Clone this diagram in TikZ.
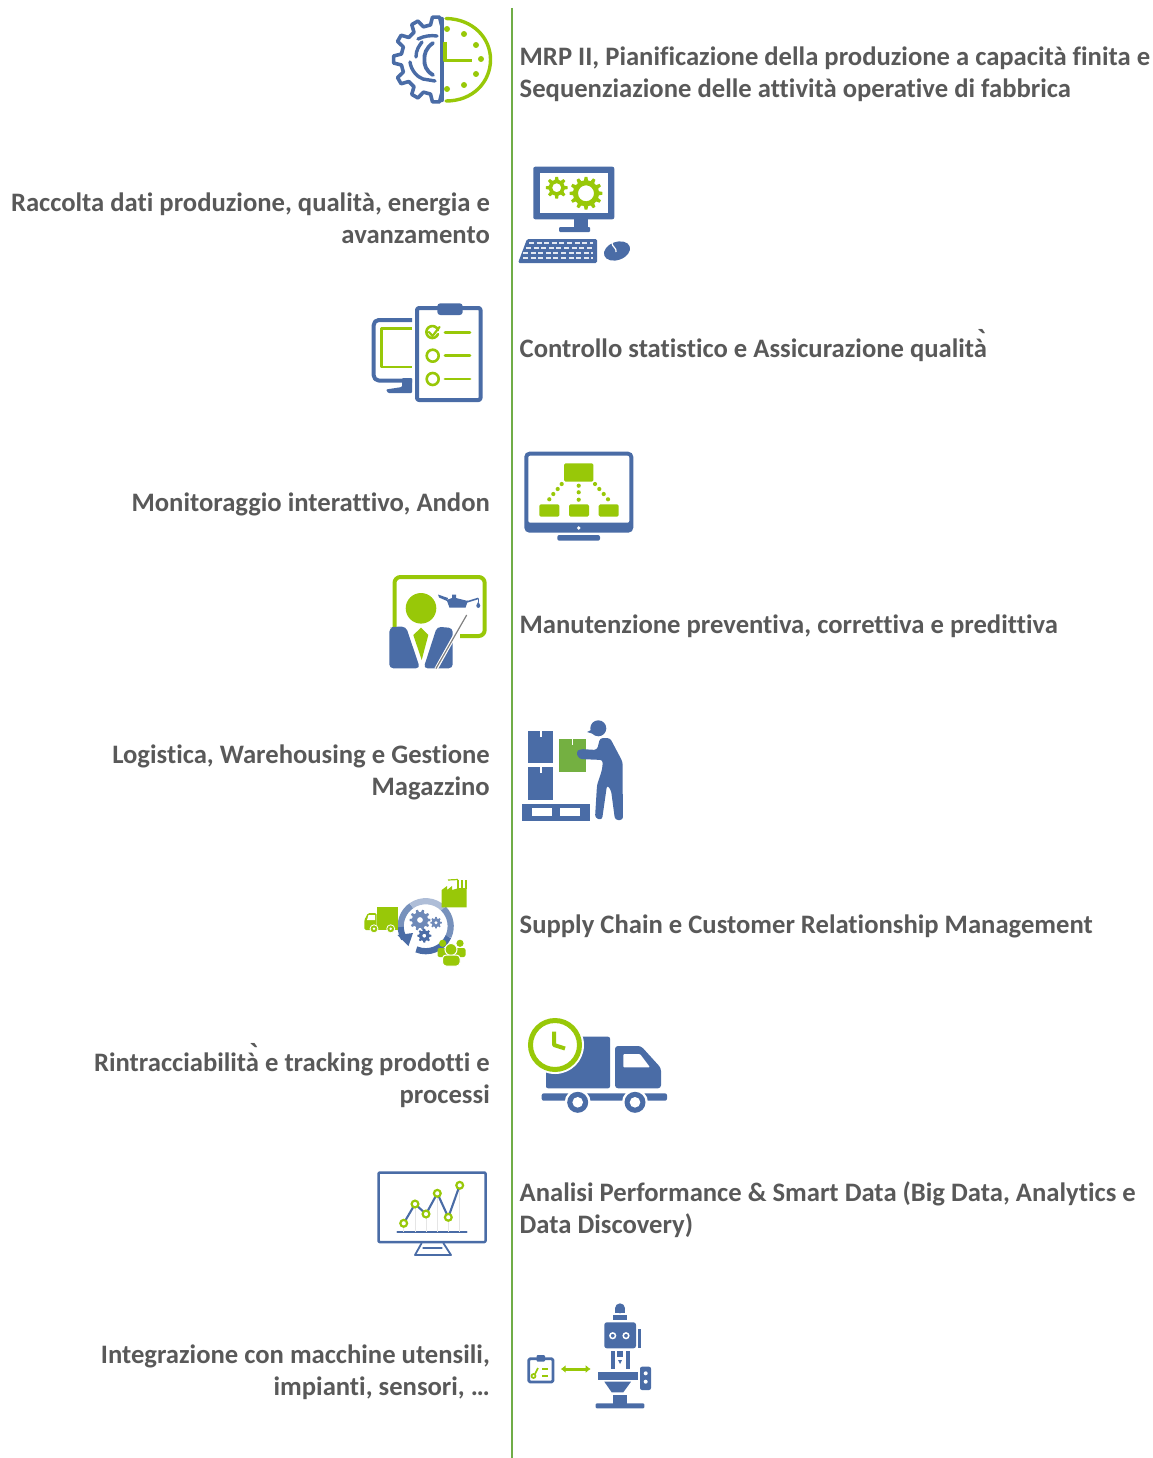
\documentclass[tikz,border=0pt]{standalone}
\usepackage{fontspec}
\setmainfont[Ligatures=NoCommon]{Carlito}
\newfontfamily\accfont{Liberation Sans}
\usetikzlibrary{arrows.meta}
\definecolor{ibl}{HTML}{4A6CA6}
\definecolor{igr}{HTML}{98C808}
\definecolor{lgr}{HTML}{70AD47}
\definecolor{txt}{HTML}{595959}
\newcommand\dblacc{{\accfont\bfseries\fontsize{31}{31}\selectfont ̀}}
\tikzset{
  rtext/.style={anchor=base east,align=right,text=txt,font=\fontsize{26.65}{32}\selectfont\bfseries,inner sep=0pt},
  ltext/.style={anchor=base west,align=left,text=txt,font=\fontsize{26.65}{32}\selectfont\bfseries,inner sep=0pt},
  bl/.style={draw=ibl,line width=#1,line cap=round,line join=round},
  bl/.default=3.5pt,
  gl/.style={draw=igr,line width=#1,line cap=round,line join=round},
  gl/.default=3pt
}
% cx,cy,Ro,Ri,n
\newcommand\gearpath[5]{%
  ({#1+#4*cos(-0.30*360/#5)},{#2+#4*sin(-0.30*360/#5)})
  \foreach \k in {1,...,#5}{
    -- ({#1+#3*cos((\k-1)*360/#5-0.16*360/#5)},{#2+#3*sin((\k-1)*360/#5-0.16*360/#5)})
    -- ({#1+#3*cos((\k-1)*360/#5+0.16*360/#5)},{#2+#3*sin((\k-1)*360/#5+0.16*360/#5)})
    -- ({#1+#4*cos((\k-1)*360/#5+0.30*360/#5)},{#2+#4*sin((\k-1)*360/#5+0.30*360/#5)})
    -- ({#1+#4*cos(\k*360/#5-0.30*360/#5)},{#2+#4*sin(\k*360/#5-0.30*360/#5)})
  } -- cycle}
% ring segment: angle a to b, colour c
\newcommand\ringseg[3]{\draw[#3,line width=6.2pt] ({425.7+25*cos(#1)},{926.2+25*sin(#1)}) arc[start angle=#1,end angle=#2,radius=25];}
\begin{document}
\begin{tikzpicture}[x=1pt,y=-1pt]
\useasboundingbox (0,0) rectangle (1153,1458);
\coordinate (lt) at (511.5,8);
\coordinate (lb) at (511.5,1458);
\draw[lgr,line width=2pt] (lt) -- (lb);

% texts (a node of two lines stands on the baseline of its last line)
\node[ltext] (t1) at (519.5,97.5) {MRP II, Pianificazione della produzione a capacità finita e\\Sequenziazione delle attività operative di fabbrica};
\node[rtext] (t2) at (490,243.5) {Raccolta dati produzione, qualità, energia e\\avanzamento};
\node[ltext] (t3) at (519.5,357.5) {Controllo statistico e Assicurazione qualità\dblacc};
\node[rtext] (t4) at (490,511.5) {Monitoraggio interattivo, Andon};
\node[ltext] (t5) at (519.5,633.5) {Manutenzione preventiva, correttiva e predittiva};
\node[rtext] (t6) at (490,795.5) {Logistica, Warehousing e Gestione\\Magazzino};
\node[ltext] (t7) at (519.5,933.5) {Supply Chain e Customer Relationship Management};
\node[rtext] (t8) at (490,1103.5) {Rintracciabilità\dblacc{} e tracking prodotti e\\processi};
\node[ltext] (t9) at (519.5,1233.5) {Analisi Performance \& Smart Data (Big Data, Analytics e\\Data Discovery)};
\node[rtext] (t10) at (490,1395.5) {Integrazione con macchine utensili,\\impianti, sensori, …};

% icon 1: gear + clock
\begin{scope}
  \clip (380,5) rectangle (442,115);
  \draw[bl=3.6pt] \gearpath{436}{59.5}{42.5}{35}{12};
\end{scope}
\draw[ibl,line width=4.4pt,line cap=round] (442,19) -- (442,100);
\draw[bl=3.8pt] (433,43) .. controls (426,48) and (424,54) .. (424.5,59.5) .. controls (424,65) and (426,71) .. (433,75);
\draw[bl=3.4pt] (418,39) .. controls (424,36) and (431,35) .. (437,36);
\draw[bl=3.4pt] (416,57) .. controls (416,50) and (419,46) .. (422,42);
\draw[bl=3.4pt] (410,62) .. controls (411,70) and (417,77) .. (423,79) -- (435,81);
\draw[gl=3.4pt] (446,18.5) .. controls (473,19) and (490.5,38) .. (490.5,59.5) .. controls (490.5,82) and (473,101) .. (446,101);
\draw[gl=3.2pt,line cap=butt] (445,42) -- (445,60.5) -- (472,60.5);
\foreach \p in {(447,29),(464,34),(476,45),(481,59),(476,74),(464,85),(447,89)}
  \fill[igr] \p circle (3);

% icon 2: computer + gears
\fill[ibl,rounded corners=2pt] (533.3,166.7) rectangle (614.3,219.3);
\fill[white] (540,172.7) rectangle (608,213);
\fill[ibl] (574,219) rectangle (588,227);
\fill[ibl,rounded corners=1pt] (559,227) rectangle (590,232);
\fill[igr,even odd rule] \gearpath{556.7}{187.7}{11}{8}{8} (556.7,187.7) circle (4.5);
\fill[igr,even odd rule] \gearpath{586}{193.3}{16.5}{13}{12} (586,193.3) circle (8);
\fill[ibl,rounded corners=1.5pt] (527,239) -- (597,239) -- (597,263) -- (518,263) -- cycle;
\foreach \yy/\xa/\xb in {243/529/593,248/526/593,253/523/593,258/523/593}{
  \draw[white!85!ibl,line width=2.4pt,dash pattern=on 5pt off 2.6pt] (\xa,\yy) -- (\xb,\yy);
}
\fill[ibl,rotate around={20:(617,251)}] (617,251) ellipse (13.5 and 9);
\draw[white,line width=1.2pt] (612,243) .. controls (612,247) and (617,248) .. (616,252) ;

% icon 3: monitor + checklist
\draw[bl=4pt,line cap=butt,rounded corners=5pt] (412,320) -- (373.7,320) -- (373.7,380.5) -- (412,380.5);
\draw[gl=2.6pt,line cap=butt] (412,328.5) -- (381.5,328.5) -- (381.5,367) -- (412,367);
\fill[ibl,rounded corners=1pt] (402,378) -- (412,378) -- (412,393) -- (388,393) -- (386,389.5) -- (402,387) -- cycle;
\draw[bl=4pt,rounded corners=2pt,fill=white] (417,308) rectangle (480.5,400);
\fill[ibl,rounded corners=3pt] (437.3,303.3) rectangle (462.7,315);
\draw[gl=2.6pt] (438,330) arc[start angle=-20,end angle=-340,radius=6];
\draw[gl=2.2pt] (429,332) -- (432.5,336) -- (439.5,327);
\draw[gl=2.6pt] (432.7,355.7) circle (6);
\draw[gl=2.6pt] (432.7,379) circle (6);
\foreach \yy in {332.7,355.7,379} \draw[gl=2.8pt] (445,\yy) -- (470,\yy);

% icon 4: monitor + hierarchy
\fill[ibl,rounded corners=5pt] (524.3,451.7) rectangle (633.3,532.7);
\fill[white,rounded corners=2pt] (528.3,455.7) rectangle (629.3,522.7);
\fill[white] (578.7,528) circle (1.8);
\fill[ibl,rounded corners=2pt] (557.3,535) rectangle (600,540.7);
\fill[igr,rounded corners=1.5pt] (564,463.3) rectangle (593.3,481.7);
\foreach \xa in {539.3,569,598.7} \fill[igr,rounded corners=1.5pt] (\xa,504.3) rectangle ++(20,12.4);
\foreach \p in {(561.7,484),(557.7,489),(553.3,494),(549.3,499.3),(578.7,485.7),(578.7,492.3),(578.7,499.7),(595,484),(599.3,489),(603.7,494),(608,499.3)}
  \fill[igr] \p circle (2.1);

% icon 5: maintenance presenter
\draw[gl=4pt,line cap=butt,rounded corners=6pt] (394.5,628) -- (394.5,577) -- (484.7,577) -- (484.7,636) -- (460,636);
\fill[igr] (421,608.3) circle (15.3);
\fill[ibl,rounded corners=4pt] (394,626.7) -- (406,626.7) -- (420,668.3) -- (389.3,668.3) -- (389.3,628) -- cycle;
\fill[ibl,rounded corners=4pt] (437,626.7) -- (452.7,628) -- (452.7,668.3) -- (423.5,668.3) -- cycle;
\fill[igr] (413.3,635) -- (421,627.7) -- (428.3,635) -- (421.7,660) -- cycle;
\draw[white,line width=3.5pt] (436,669) -- (455,635);
\draw[gray,line width=1.2pt] (436,668.5) -- (466.7,615);
\fill[ibl] (446.7,600) -- (452,598) -- (452,594.5) -- (456,594.5) -- (456,598) -- (466,600.5) -- (468,600.5) -- (465.5,607.7) -- (449.5,607.7) -- cycle;
\fill[ibl] (438,594.5) -- (448,598) -- (447,601) -- (439,597.5) -- cycle;
\draw[bl=1.6pt] (465,602.5) -- (478,598.5);
\draw[ibl,line width=1pt] (478.3,599) -- (478.3,602);
\fill[ibl] (478.3,601.5) -- (480.3,605.5) .. controls (480.3,608.7) and (476.3,608.7) .. (476.3,605.5) -- cycle;

% icon 6: warehouse worker
\fill[ibl] (528,731) rectangle (553.3,763.3);
\fill[ibl] (528,767.3) rectangle (553.3,800);
\fill[white] (540,731) rectangle (541.5,737);
\fill[white] (540,767.3) rectangle (541.5,773);
\fill[lgr!90!igr] (558.7,739) rectangle (585.7,772.3);
\fill[white] (571.5,739) rectangle (573,745);
\fill[ibl] (522,803.7) rectangle (590,808.3);
\fill[ibl] (522,816) rectangle (590,821);
\fill[ibl] (522,808) rectangle (532,817);
\fill[ibl] (552,808) rectangle (560,817);
\fill[ibl] (580,808) rectangle (590,817);
\fill[ibl] (598.3,728.3) circle (8);
\fill[ibl] (587,732) -- (597,727) -- (597,735) -- cycle;
\fill[ibl,rounded corners=3pt] (600,738) -- (610,738) -- (622.7,762) -- (622.7,790) -- (623,820) -- (615,820) -- (611,790) -- (607,785) -- (602,820) -- (595,818) -- (597,785) -- (602,770) -- (603,760) -- (579,759) -- (576,752) -- (580,749) -- (597,750) -- cycle;

% icon 7: supply chain
\ringseg{175}{235}{ibl!75!white}
\ringseg{235}{315}{ibl!45!white}
\ringseg{315}{385}{ibl!75!white}
\ringseg{385}{472}{ibl}
\ringseg{150}{178}{ibl}
\fill[ibl] (397.5,935) -- (413,933) -- (408.5,946) -- cycle;
\fill[ibl!80!white,even odd rule] \gearpath{420}{920}{10.5}{8}{10} (420,920) circle (3);
\fill[ibl!80!white,even odd rule] \gearpath{436}{922.7}{5.8}{4.3}{8} (436,922.7) circle (1.8);
\fill[ibl,even odd rule] \gearpath{424.3}{935.7}{7}{5.3}{8} (424.3,935.7) circle (2);
\fill[igr] (376.7,906.5) rectangle (397.5,930);
\fill[igr,rounded corners=1.5pt] (364.3,930) -- (364.3,920) -- (368,913) -- (376.7,913) -- (376.7,930) -- cycle;
\fill[white] (368.5,915) -- (375,915) -- (375,920) -- (367,920) -- cycle;
\foreach \xx in {374,390.7} {\draw[white,line width=0.8pt,fill=igr] (\xx,928.8) circle (4); \fill[white] (\xx,928.8) circle (1.4);}
\fill[igr] (441.7,907.3) -- (441.7,890) -- (447,886) -- (447,890) -- (452,886) -- (452,890) -- (459,888) -- (466.7,888) -- (466.7,907.3) -- cycle;
\foreach \xx in {456.5,461,465} \fill[igr] (\xx,880) rectangle ++(2.2,9);
\draw[igr,line width=1.2pt] (448,880) -- (458,879.5);
\fill[igr] (442.7,943.3) circle (3.6);
\fill[igr] (460,943.3) circle (3.6);
\fill[igr,rounded corners=2pt] (437.5,957) -- (437.5,948) -- (465.5,948) -- (465.5,957) -- cycle;
\draw[white,line width=1pt,fill=igr] (451,949.5) circle (6);
\draw[white,line width=1pt,fill=igr,rounded corners=3.5pt] (442.5,966) -- (442.5,955) -- (460,955) -- (460,966) -- cycle;

% icon 8: truck + clock
\fill[ibl,rounded corners=2pt] (546,1036.7) rectangle (610,1088.3);
\fill[ibl,rounded corners=3pt] (615,1088.3) -- (615,1046) -- (641,1046) -- (661,1068) -- (661,1088.3) -- cycle;
\fill[white,rounded corners=1pt] (623.3,1054) -- (640,1054) -- (650,1067.3) -- (623.3,1067.3) -- cycle;
\fill[ibl,rounded corners=2pt] (541.7,1093.3) rectangle (667,1100.7);
\foreach \xx in {577.7,635} {
  \fill[white] (\xx,1102.3) circle (13);
  \fill[ibl] (\xx,1102.3) circle (10.5);
  \fill[white] (\xx,1102.3) circle (5.3);
}
\fill[white] (555,1045) circle (29);
\draw[igr,line width=5pt] (555,1045) circle (24.5);
\draw[gl=4pt,line cap=butt] (554,1031.7) -- (554,1045) -- (565,1048.5);

% icon 9: chart monitor
\draw[bl=2.5pt,rounded corners=1pt] (378.5,1172.5) rectangle (485.5,1242);
\draw[bl=1.8pt,line cap=butt] (421.7,1243) -- (415,1255) -- (451,1255) -- (443.3,1243);
\draw[bl=1.2pt] (423,1248) -- (442,1248);
\draw[bl=2pt] (397.3,1232.3) -- (466.7,1232.3);
\foreach \xx/\yy in {403.7/1223.3,415/1204,426/1214,437.3/1193.3,448.3/1217.3,459.7/1185.3}
  \draw[gray!20,line width=0.7pt] (\xx,\yy) -- (\xx,1232);
\draw[bl=2.1pt] (403.7,1223.3) -- (415,1204) -- (426,1214) -- (437.3,1193.3) -- (448.3,1217.3) -- (459.7,1185.3);
\foreach \xx/\yy in {403.7/1223.3,415/1204,426/1214,437.3/1193.3,448.3/1217.3,459.7/1185.3}
  \draw[igr,line width=2.2pt,fill=white] (\xx,\yy) circle (3.4);

% icon 10: machine tool
\draw[bl=2.8pt,rounded corners=1.5pt] (528.7,1358.7) rectangle (553,1382);
\fill[ibl,rounded corners=1pt] (536.7,1355) rectangle (545,1361.7);
\draw[igr,line width=1.7pt] (533.5,1376) circle (2);
\draw[igr,line width=1.7pt] (535,1374) -- (538,1368);
\foreach \yy in {1369,1376} \draw[igr,line width=2pt] (542,\yy) -- (548,\yy);
\coordinate (al) at (560.7,1369);
\coordinate (ar) at (590.7,1369);
\draw[igr,line width=3pt,{Latex[length=5pt,width=8pt]}-{Latex[length=5pt,width=8pt]}] (al) -- (ar);
\fill[ibl] (620,1308.3) circle (5);
\fill[ibl] (615,1308) rectangle (625,1313);
\fill[ibl] (613.3,1315) rectangle (627.3,1320);
\fill[ibl,rounded corners=2.5pt] (604.3,1322.3) rectangle (636,1348.3);
\foreach \xx in {612.7,626} {\draw[white,line width=1.5pt] (\xx,1335.7) circle (2.8);}
\fill[ibl] (638.3,1329) rectangle (640.7,1348);
\fill[ibl] (610.7,1351) rectangle (615,1369);
\fill[ibl] (626,1351) rectangle (630,1369);
\fill[ibl] (617.3,1351) rectangle (622.7,1356.5);
\fill[ibl] (618,1360) -- (622,1360) -- (620,1364) -- cycle;
\fill[ibl] (597.7,1371.7) rectangle (638.3,1380);
\fill[ibl] (604.3,1381.7) -- (631,1381.7) -- (623.3,1392.3) -- (611.7,1392.3) -- cycle;
\fill[ibl] (613,1395) rectangle (627,1403.5);
\fill[ibl,rounded corners=1pt] (595.7,1403.3) rectangle (644.3,1408.3);
\fill[ibl,rounded corners=2pt] (640,1366.7) rectangle (651,1390);
\fill[white] (645.7,1373.3) circle (2);
\fill[white] (645.7,1381.7) circle (2);
\end{tikzpicture}
\end{document}
